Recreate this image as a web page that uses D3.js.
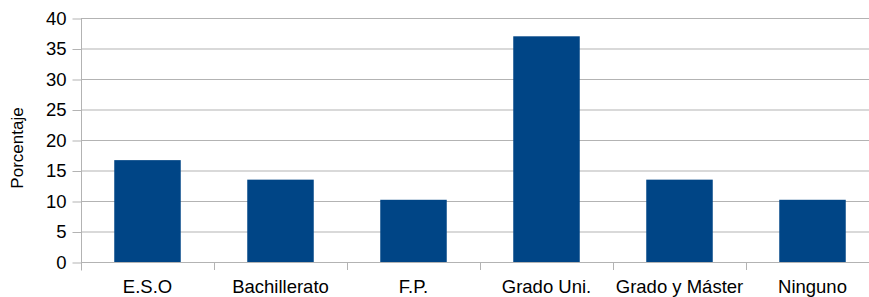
<!DOCTYPE html>
<html>
<head>
<meta charset="utf-8">
<script src="https://cdn.jsdelivr.net/npm/d3@7"></script>
<style>
  body { margin: 0; background: #fff; }
  text { font-family: "Liberation Sans", Arial, sans-serif; fill: #000; }
</style>
</head>
<body>
<svg id="chart" width="869" height="297"></svg>
<script>
// data
var categories = ['E.S.O', 'Bachillerato', 'F.P.', 'Grado Uni.', 'Grado y Máster', 'Ninguno']
var porcentajes = [16.7, 13.5, 10.2, 37.0, 13.5, 10.2]
var yTicks = [0, 5, 10, 15, 20, 25, 30, 35, 40]

var svg = d3.select('#chart')
var plotLeft = 81, plotRight = 879, plotTop = 18, plotBottom = 262
var gridColor = '#b3b3b3'

var x = d3.scaleBand().domain(categories).range([plotLeft, plotRight]).paddingInner(0.5).paddingOuter(0.25)
var y = d3.scaleLinear().domain([0, 40]).range([plotBottom, plotTop])

// gridlines
svg.append('g')
  .selectAll('line')
  .data(yTicks)
  .join('line')
  .attr('x1', plotLeft).attr('x2', plotRight)
  .attr('y1', d => y(d) + 0.5).attr('y2', d => y(d) + 0.5)
  .attr('stroke', gridColor)

// bars
svg.append('g')
  .selectAll('rect')
  .data(porcentajes)
  .join('rect')
  .attr('x', (d, i) => x(categories[i]))
  .attr('width', x.bandwidth())
  .attr('y', d => y(d))
  .attr('height', d => y(0) - y(d))
  .attr('fill', '#004586')

// y axis
var yAxis = svg.append('g')
  .attr('transform', 'translate(' + (plotLeft + 0.5) + ',0.5)')
  .call(d3.axisLeft(y).tickValues(yTicks).tickSize(9).tickPadding(6).tickSizeOuter(0))
yAxis.select('.domain').remove()
yAxis.append('line').attr('x1', 0).attr('x2', 0).attr('y1', plotTop).attr('y2', plotBottom + 8).attr('stroke', gridColor)
yAxis.selectAll('.tick line').attr('stroke', gridColor)
yAxis.selectAll('.tick text').style('font-size', '18.5px').attr('font-family', null)

// x axis: ticks at band boundaries
var bounds = d3.range(categories.length + 1).map(i => plotLeft + i * (plotRight - plotLeft) / categories.length)
var xAxis = svg.append('g')
xAxis.append('line').attr('x1', plotLeft).attr('x2', plotRight).attr('y1', plotBottom + 0.5).attr('y2', plotBottom + 0.5).attr('stroke', gridColor)
xAxis.selectAll('line.tk')
  .data(bounds)
  .join('line')
  .classed('tk', true)
  .attr('x1', d => Math.round(d) + 0.5).attr('x2', d => Math.round(d) + 0.5)
  .attr('y1', plotBottom).attr('y2', plotBottom + 8)
  .attr('stroke', gridColor)
xAxis.selectAll('text')
  .data(categories)
  .join('text')
  .attr('x', d => x(d) + x.bandwidth() / 2)
  .attr('y', 293)
  .attr('text-anchor', 'middle')
  .style('font-size', '18.5px')
  .text(d => d)

// axis title
svg.append('text')
  .attr('transform', 'translate(23,148) rotate(-90)')
  .attr('text-anchor', 'middle')
  .style('font-size', '17px')
  .text('Porcentaje')
</script>
</body>
</html>
